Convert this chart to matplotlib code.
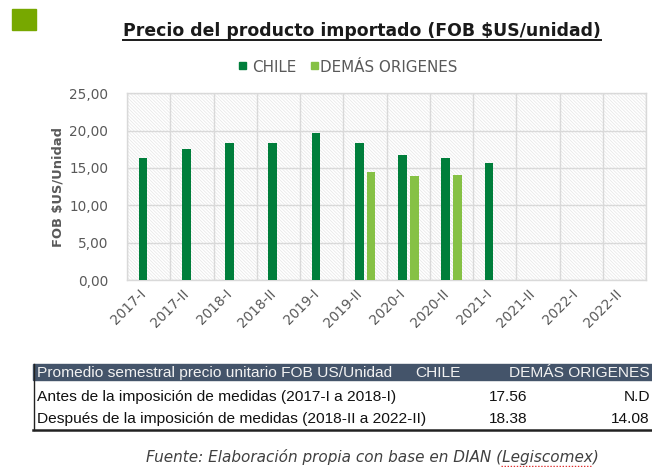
import numpy as np
import matplotlib
matplotlib.use("Agg")
import matplotlib.pyplot as plt
from matplotlib.patches import Rectangle
from matplotlib.lines import Line2D
from matplotlib import font_manager

# ---------------- data ----------------
categories = ['2017-I', '2017-II', '2018-I', '2018-II', '2019-I', '2019-II',
              '2020-I', '2020-II', '2021-I', '2021-II', '2022-I', '2022-II']
chile = [16.4, 17.6, 18.3, 18.3, 19.7, 18.4, 16.8, 16.3, 15.6, np.nan, np.nan, np.nan]
demas = [np.nan, np.nan, np.nan, np.nan, np.nan, 14.4, 13.9, 14.1, np.nan, np.nan, np.nan, np.nan]
series_names = ['CHILE', 'DEMÁS ORIGENES']
y_ticks = [0, 5, 10, 15, 20, 25]
y_ticklabels = ['0,00', '5,00', '10,00', '15,00', '20,00', '25,00']
title = 'Precio del producto importado (FOB $US/unidad)'
ylabel = 'FOB $US/Unidad'
table_header = ['Promedio semestral precio unitario FOB US/Unidad', 'CHILE', 'DEMÁS ORIGENES']
table_rows = [['Antes de la imposición de medidas (2017-I a 2018-I)', '17.56', 'N.D'],
              ['Después de la imposición de medidas (2018-II a 2022-II)', '18.38', '14.08']]
source_prefix = 'Fuente: Elaboración propia con base en DIAN ('
source_word = 'Legiscomex'
source_suffix = ')'

# ---------------- style ----------------
C_CHILE = '#007E3B'
C_DEMAS = '#86C145'
GRAY = '#595959'
GRID = '#D9D9D9'
HATCH = '#E6E6E6'

plt.rcParams['hatch.color'] = HATCH
plt.rcParams['hatch.linewidth'] = 0.5

W, H = 652, 467
fig = plt.figure(figsize=(W / 100, H / 100), dpi=100)
fig.patch.set_facecolor('white')
renderer = fig.canvas.get_renderer()


def fx(x):
    return x / W


def fy(y):
    return 1 - y / H


def fit_size(s, width, **kw):
    t = fig.text(0, 0, s, fontsize=10, **kw)
    w = t.get_window_extent(renderer).width
    t.remove()
    return 10 * width / w


def fit_text(x0, x1, y, s, va='baseline', **kw):
    size = fit_size(s, x1 - x0, **kw)
    return fig.text(fx(x0), fy(y), s, ha='left', va=va, fontsize=size, **kw)


# ---------------- axes ----------------
ax = fig.add_axes([fx(127), fy(280), (646 - 127) / W, (280 - 93.3) / H])
ax.patch.set_facecolor('white')
ax.patch.set_hatch('\\' * 10)
if hasattr(ax.patch, 'set_hatchcolor'):
    ax.patch.set_hatchcolor(HATCH)
ax.patch.set_edgecolor(HATCH)
ax.patch.set_linewidth(0)

x = np.arange(len(categories))
ax.bar(x - 0.13, chile, 0.2, color=C_CHILE, label=series_names[0], zorder=3)
ax.bar(x + 0.14, demas, 0.2, color=C_DEMAS, label=series_names[1], zorder=3)

ax.set_xlim(-0.5, len(categories) - 0.5)
ax.set_ylim(0, 25)
ax.set_yticks(y_ticks)
ax.set_yticklabels(y_ticklabels)
ax.set_xticks(x)
ax.set_xticklabels(categories, rotation=45, ha='right', va='top')
ax.set_xticks(np.arange(-0.5, len(categories), 1), minor=True)
ax.tick_params(axis='both', which='both', length=0, colors=GRAY, labelsize=9.8)
ax.tick_params(axis='y', pad=13.5)
ax.tick_params(axis='x', pad=5)
ax.grid(axis='y', color=GRID, lw=1, zorder=1)
ax.grid(axis='x', which='minor', color=GRID, lw=1, zorder=1)
ax.grid(axis='x', which='major', visible=False)
ax.set_axisbelow(True)
for sp in ax.spines.values():
    sp.set_color(GRID)
    sp.set_linewidth(1)

# y label
ysz = fit_size(ylabel, 120, fontweight='bold')
fig.text(fx(58), fy(187), ylabel, fontsize=ysz, fontweight='bold', color=GRAY,
         rotation=90, ha='center', va='center')

# ---------------- title / header ----------------
fig.patches.append(Rectangle((fx(12), fy(30)), 24 / W, 21 / H, color='#77A800',
                             transform=fig.transFigure, figure=fig))
fit_text(123, 601, 36, title, fontweight='bold', color='#1A1A1A')
fig.lines.append(Line2D([fx(123), fx(601)], [fy(39.5), fy(39.5)], color='#1A1A1A',
                        lw=1.4, transform=fig.transFigure, figure=fig))

# legend
lsz = fit_size(series_names[1], 137)
for (sx, tx0, name, col) in [(239, 252, series_names[0], C_CHILE),
                             (311, 320, series_names[1], C_DEMAS)]:
    fig.patches.append(Rectangle((fx(sx), fy(68.5)), 7 / W, 7 / H, color=col,
                                 transform=fig.transFigure, figure=fig))
    fig.text(fx(tx0), fy(72), name, fontsize=lsz, color=GRAY, ha='left', va='baseline')

# ---------------- table ----------------
fig.patches.append(Rectangle((fx(33), fy(380)), (W - 33) / W, 16 / H, color='#44546A',
                             transform=fig.transFigure, figure=fig))
fig.lines.append(Line2D([fx(33.5), fx(33.5)], [fy(364), fy(430)], color='#222222',
                        lw=1, transform=fig.transFigure, figure=fig))
fig.lines.append(Line2D([fx(33), fx(W)], [fy(429.5), fy(429.5)], color='#222222',
                        lw=1.8, transform=fig.transFigure, figure=fig))

installed = {f.name for f in font_manager.fontManager.ttflist}
tfam = 'Liberation Sans Narrow' if 'Liberation Sans Narrow' in installed else 'Liberation Sans'
tsize = fit_size(table_rows[0][0], 360, family=tfam)
tsize = min(tsize, 11.2)
hdr_x = [(37, 'left'), (415, 'left'), (650, 'right')]
for s, (hx, ha) in zip(table_header, hdr_x):
    fig.text(fx(hx), fy(377), s, fontsize=tsize, family=tfam, color='#F2F2F2',
             ha=ha, va='baseline')
for row, base in zip(table_rows, [401, 423]):
    for s, (cx, ha) in zip(row, [(37, 'left'), (527, 'right'), (650, 'right')]):
        fig.text(fx(cx), fy(base), s, fontsize=tsize, family=tfam, color='#111111',
                 ha=ha, va='baseline')

# ---------------- source ----------------
full = source_prefix + source_word + source_suffix
ssize = fit_size(full, 452, style='italic')
fig.text(fx(146), fy(462), full, fontsize=ssize, style='italic', color='#404040',
         ha='left', va='baseline')
w_pre = 10 * ssize / fit_size(source_prefix, 10, style='italic')
w_word = 10 * ssize / fit_size(source_word, 10, style='italic')
fig.lines.append(Line2D([fx(146 + w_pre), fx(146 + w_pre + w_word)], [fy(465.5), fy(465.5)],
                        color='#E03030', lw=1, ls=(0, (1, 1.2)),
                        transform=fig.transFigure, figure=fig))

fig.savefig('out.png', dpi=100, facecolor='white')
